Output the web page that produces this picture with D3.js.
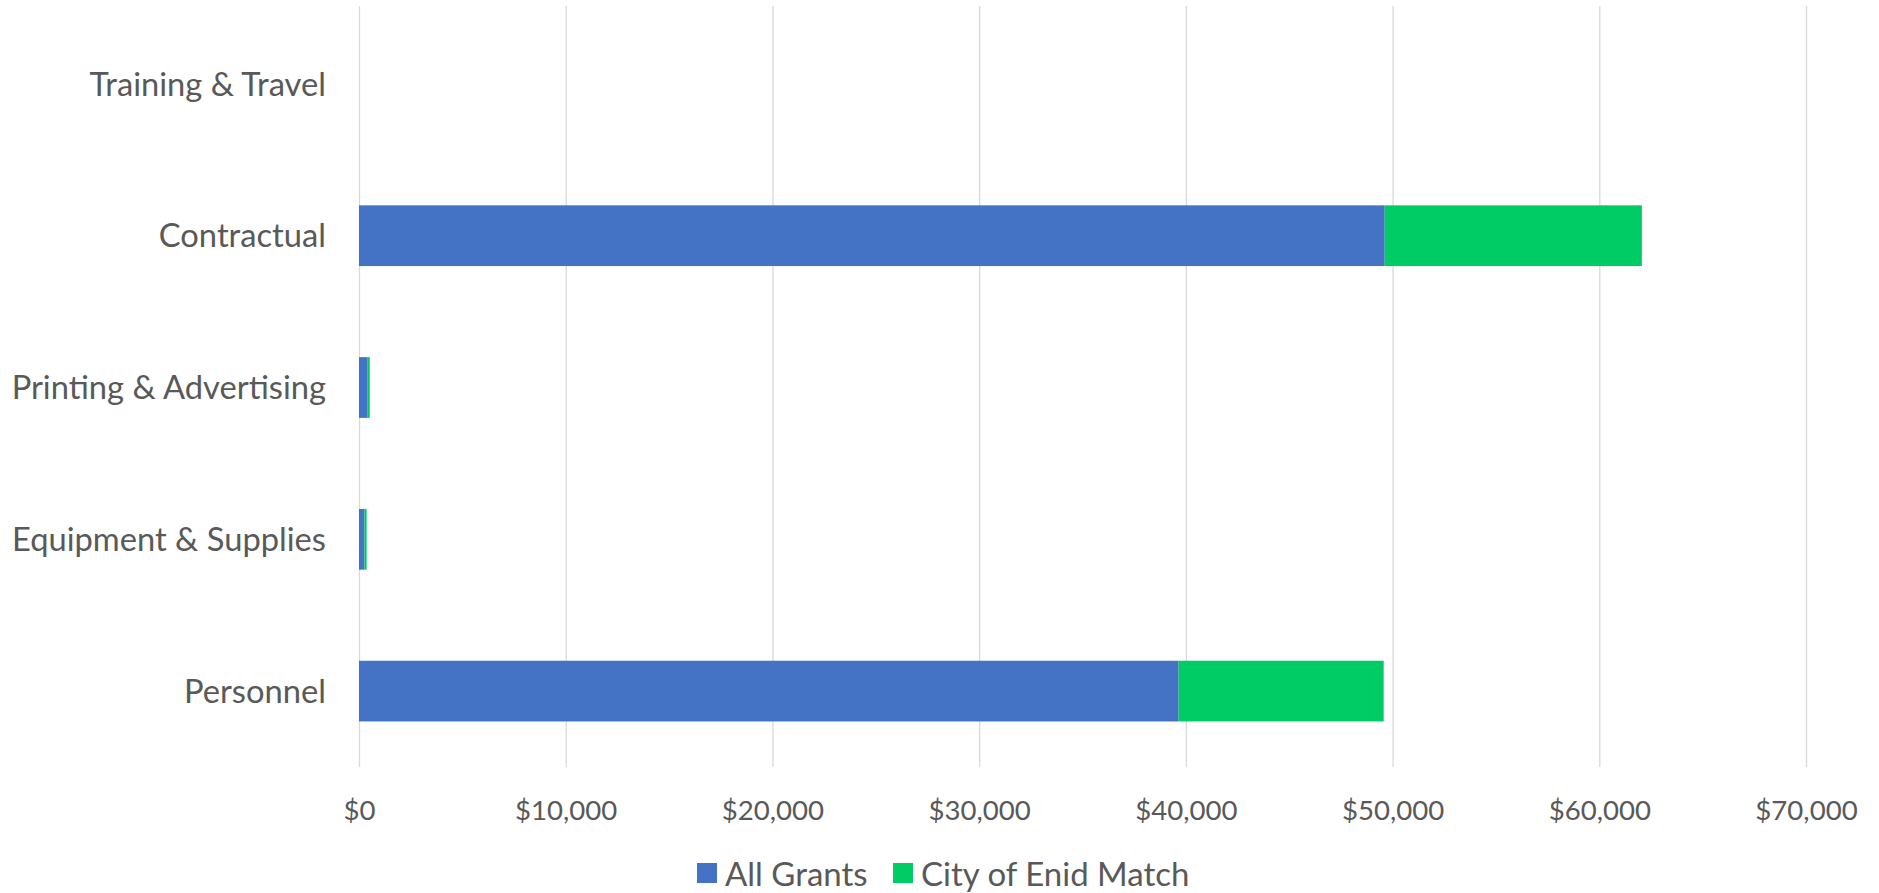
<!DOCTYPE html>
<html>
<head>
<meta charset="utf-8">
<script src="https://cdn.jsdelivr.net/npm/d3@7"></script>
<style>
  html, body { margin: 0; padding: 0; background: #fff; }
  svg text { font-family: Lato, "Open Sans", sans-serif; fill: #595959; }
</style>
</head>
<body>
<div id="chart"></div>
<script>
const categories = ['Training & Travel', 'Contractual', 'Printing & Advertising', 'Equipment & Supplies', 'Personnel'];
const allGrants = [0, 49620, 420, 260, 39650];
const cityMatch = [0, 12440, 100, 110, 9920];
const seriesNames = ['All Grants', 'City of Enid Match'];
const seriesColors = ['#4472C4', '#00CC66'];
const tickValues = [0, 10000, 20000, 30000, 40000, 50000, 60000, 70000];

const width = 1879;
const height = 893;
const margin = { top: 8, right: 73, bottom: 126, left: 359 };

const svg = d3.select('#chart')
              .append('svg')
              .attr('width', width)
              .attr('height', height);

const rows = categories.map((c, i) => ({ category: c, 'All Grants': allGrants[i], 'City of Enid Match': cityMatch[i] }));
const stacked = d3.stack().keys(seriesNames)(rows);

const x = d3.scaleLinear()
            .domain([0, 70000])
            .range([margin.left, width - margin.right]);

const y = d3.scaleBand()
            .domain(categories)
            .range([margin.top, height - margin.bottom])
            .paddingInner(0.6)
            .paddingOuter(0.3);

// gridlines
svg.append('g')
   .selectAll('line')
   .data(tickValues)
   .enter()
   .append('line')
   .attr('x1', (d) => x(d) + 0.5)
   .attr('x2', (d) => x(d) + 0.5)
   .attr('y1', 6)
   .attr('y2', height - margin.bottom)
   .attr('stroke', '#D9D9D9')
   .attr('stroke-width', 1.3);

// bars
svg.append('g')
   .selectAll('g')
   .data(stacked)
   .enter()
   .append('g')
   .attr('fill', (d, i) => seriesColors[i])
   .selectAll('rect')
   .data((d) => d)
   .enter()
   .append('rect')
   .attr('x', (d) => x(d[0]))
   .attr('y', (d) => y(d.data.category))
   .attr('width', (d) => Math.max(0, x(d[1]) - x(d[0])))
   .attr('height', y.bandwidth());

// category labels
svg.append('g')
   .selectAll('text')
   .data(categories)
   .enter()
   .append('text')
   .attr('x', 326)
   .attr('y', (d) => y(d) + y.bandwidth() / 2)
   .attr('dy', '0.36em')
   .attr('text-anchor', 'end')
   .style('font-size', '32.7px')
   .text((d) => d);

// x axis labels
const xAxis = d3.axisBottom(x)
                .tickValues(tickValues)
                .tickSize(0)
                .tickPadding(0)
                .tickFormat((d) => '$' + d3.format(',')(d));

svg.append('g')
   .attr('transform', 'translate(0, 810)')
   .call(xAxis)
   .call((g) => g.select('.domain').remove())
   .selectAll('text')
   .attr('dy', '0.36em')
   .attr('y', 0)
   .style('font-size', '27.6px')
   .style('font-family', 'Lato, sans-serif')
   .attr('fill', '#595959');

// legend
const legendX = [697, 893];
const legend = svg.append('g')
                  .selectAll('g')
                  .data(seriesNames)
                  .enter()
                  .append('g')
                  .attr('transform', (d, i) => 'translate(' + legendX[i] + ', 863)');

legend.append('rect')
      .attr('width', 20)
      .attr('height', 20)
      .attr('fill', (d, i) => seriesColors[i]);

legend.append('text')
      .attr('x', 28)
      .attr('y', 11)
      .attr('dy', '0.36em')
      .style('font-size', '33px')
      .text((d) => d);
</script>
</body>
</html>
